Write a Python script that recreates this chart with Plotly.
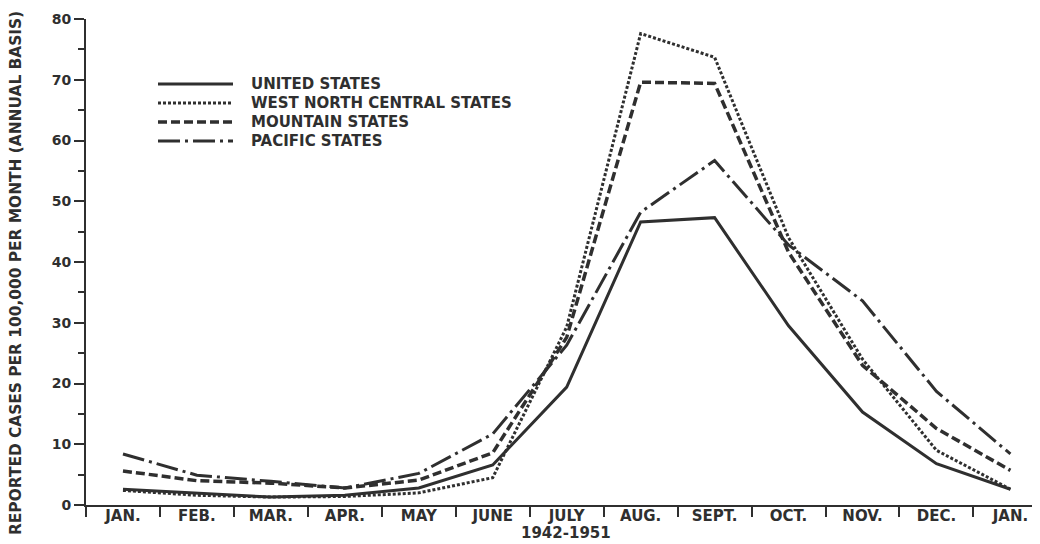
import plotly.graph_objects as go

months = ["JAN.", "FEB.", "MAR.", "APR.", "MAY", "JUNE", "JULY",
          "AUG.", "SEPT.", "OCT.", "NOV.", "DEC.", "JAN."]
united_states = [2.6, 2.0, 1.3, 1.6, 2.8, 6.6, 19.4, 46.6, 47.3, 29.5, 15.3, 6.8, 2.6]
west_north_central = [2.4, 1.6, 1.3, 1.4, 2.0, 4.5, 29.3, 77.6, 73.7, 44.0, 24.0, 9.0, 2.6]
mountain = [5.6, 4.0, 3.6, 2.8, 4.1, 8.6, 27.6, 69.6, 69.4, 41.6, 23.0, 12.6, 5.7]
pacific = [8.4, 4.9, 3.9, 2.8, 5.2, 11.7, 26.3, 48.2, 56.7, 42.8, 33.6, 18.7, 8.4]

series_names = ["UNITED STATES", "WEST NORTH CENTRAL STATES",
                "MOUNTAIN STATES", "PACIFIC STATES"]
series_values = [united_states, west_north_central, mountain, pacific]
y_title = "REPORTED CASES PER 100,000 PER MONTH (ANNUAL BASIS)"
x_title = "1942-1951"

INK = "#2f2f2f"
FONT = "DejaVu Sans"
styles = [
    dict(dash="solid", width=3),
    dict(dash="3px,2px", width=3),
    dict(dash="9px,4px", width=3.5),
    dict(dash="22px,5px,3px,5px", width=3),
]

# the page body has an 8px margin, so the figure is drawn at (8, 8)
OFF = 8
W, H = 1040 - OFF, 544 - OFF
# plot area in page pixels: x 86..1040, y 19..505
ML, MT = 86 - OFF, 19 - OFF
MR = 0
MB = H - (505 - OFF)
PW, PH = W - ML - MR, H - MT - MB

def px_x(page_x):
    return (page_x - OFF - ML) / PW

def px_y(page_y):
    return (H - MB - (page_y - OFF)) / PH

x = list(range(len(months)))
fig = go.Figure()
for name, vals, st in zip(series_names, series_values, styles):
    fig.add_trace(go.Scatter(
        x=x, y=vals, mode="lines", name=name, showlegend=False,
        line=dict(color=INK, width=st["width"], dash=st["dash"]),
    ))

# legend drawn with long line samples, as in the original
row_y = [84, 103, 122, 141]
for name, st, ry in zip(series_names, styles, row_y):
    fig.add_shape(type="line", xref="paper", yref="paper",
                  x0=px_x(158), x1=px_x(233), y0=px_y(ry), y1=px_y(ry),
                  line=dict(color=INK, width=st["width"], dash=st["dash"]))
    fig.add_annotation(xref="paper", yref="paper", x=px_x(249), y=px_y(ry),
                       xanchor="left", yanchor="middle", showarrow=False,
                       text="<b>%s</b>" % name,
                       font=dict(family=FONT, size=15, color=INK))

fig.add_annotation(xref="paper", yref="paper", x=px_x(16), y=px_y(9),
                   xanchor="center", yanchor="top", showarrow=False,
                   textangle=-90, text="<b>%s</b>" % y_title,
                   font=dict(family=FONT, size=15.4, color=INK))

fig.add_annotation(xref="paper", yref="paper", x=px_x(566), y=px_y(533),
                   xanchor="center", yanchor="middle", showarrow=False,
                   text="<b>%s</b>" % x_title,
                   font=dict(family=FONT, size=15, color=INK))

fig.update_layout(
    width=W, height=H,
    margin=dict(l=ML, r=MR, t=MT, b=MB, pad=0),
    paper_bgcolor="white", plot_bgcolor="white",
    showlegend=False,
    font=dict(family=FONT, color=INK),
    xaxis=dict(
        range=[-0.5, 12.4], showgrid=False, zeroline=False, automargin=False,
        showline=True, linecolor=INK, linewidth=2,
        tickmode="array", tickvals=x,
        ticktext=["<b>%s</b>" % m for m in months],
        ticks="", tickfont=dict(family=FONT, size=15, color=INK),
        ticklabelstandoff=-4,
        minor=dict(tickvals=[i - 0.5 for i in range(len(months))],
                   ticks="outside", ticklen=10, tickwidth=2, tickcolor=INK,
                   showgrid=False),
    ),
    yaxis=dict(
        range=[0, 80], showgrid=False, zeroline=False, automargin=False,
        showline=True, linecolor=INK, linewidth=2,
        tickmode="array", tickvals=list(range(0, 81, 10)),
        ticktext=["<b>%d</b>" % v for v in range(0, 81, 10)],
        ticks="outside", ticklen=10, tickwidth=2, tickcolor=INK,
        tickfont=dict(family=FONT, size=14, color=INK),
        minor=dict(tickvals=list(range(5, 80, 10)), ticks="outside",
                   ticklen=6, tickwidth=2, tickcolor=INK, showgrid=False),
    ),
)

fig.write_html("out.html")
